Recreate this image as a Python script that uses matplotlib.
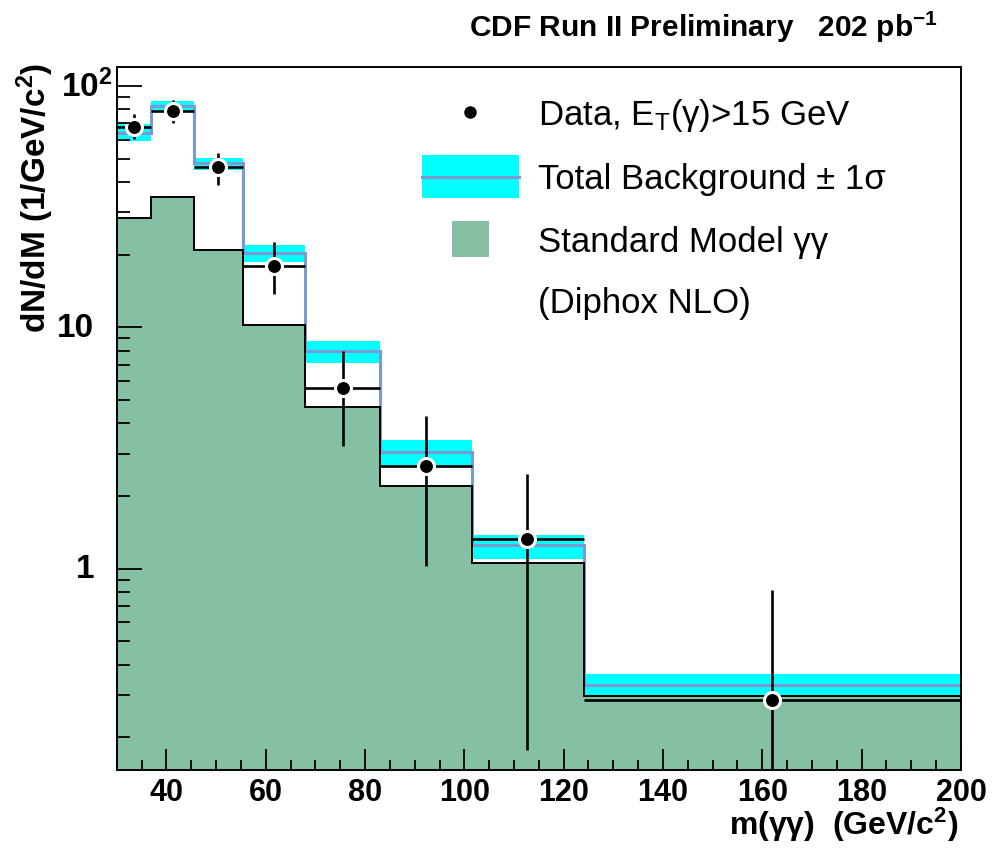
import numpy as np
import matplotlib
matplotlib.use("Agg")
import matplotlib.pyplot as plt
from matplotlib.ticker import MultipleLocator, LogLocator, NullFormatter
from matplotlib.patches import Rectangle
from matplotlib.lines import Line2D

# diphoton mass spectrum
edges = [30, 37, 45.5, 55.5, 68, 83, 101.5, 124, 200]
sm_gg = [28.3, 34.6, 20.9, 10.2, 4.70, 2.21, 1.06, 0.297]
bkg = [63.8, 82.6, 47.9, 20.3, 7.95, 3.06, 1.25, 0.330]
bkg_hi = [69.4, 86.9, 50.3, 21.9, 8.76, 3.40, 1.38, 0.367]
bkg_lo = [59.0, 78.0, 44.9, 18.6, 7.10, 2.70, 1.10, 0.297]
data_x = [33.4, 41.3, 50.5, 61.6, 75.5, 92.2, 112.6, 161.9]
data_y = [68.0, 79.0, 46.0, 18.0, 5.6, 2.67, 1.33, 0.286]
data_hi = [76.6, 87.8, 52.7, 22.5, 7.95, 4.31, 2.48, 0.818]
data_lo = [60.3, 70.0, 39.0, 13.8, 3.24, 1.03, 0.177, 0.05]

ytick_vals = [1, 10, 100]

plt.rcParams['font.family'] = ['Liberation Sans', 'DejaVu Sans']
plt.rcParams['mathtext.fontset'] = 'custom'
plt.rcParams['mathtext.rm'] = 'Liberation Sans'
plt.rcParams['mathtext.bf'] = 'Liberation Sans:bold'
plt.rcParams['mathtext.it'] = 'Liberation Sans:italic'

green = '#86c0a4'
cyan = '#00ffff'
blue = '#7d99d1'

fig = plt.figure(figsize=(10.05, 8.53), dpi=100)
ax = fig.add_axes([0.1161, 0.0965, 0.8401, 0.8238])
ax.set_yscale('log')

# uncertainty band on total background
ax.stairs(bkg_hi, edges, baseline=bkg_lo, fill=True, color=cyan, lw=0, zorder=1)
ax.stairs(bkg, edges, baseline=None, color=blue, lw=2.2, zorder=2)
# SM diphoton (Diphox NLO)
ax.stairs(sm_gg, edges, baseline=1e-3, fill=True, color=green, lw=0, zorder=3)
ax.stairs(sm_gg, edges, baseline=None, color='black', lw=1.4, zorder=4)

x = np.array(data_x)
y = np.array(data_y)
e = np.array(edges)
ax.errorbar(x, y, yerr=[y - np.array(data_lo), np.array(data_hi) - y],
            xerr=[x - e[:-1], e[1:] - x], fmt='o', color='black', ms=11.5,
            mec='white', mew=2.2, elinewidth=1.9, capsize=0, zorder=5)

ax.set_xlim(30, 200)
ax.set_ylim(0.147, 120)

ax.xaxis.set_major_locator(MultipleLocator(20))
ax.xaxis.set_minor_locator(MultipleLocator(5))
ax.yaxis.set_major_locator(LogLocator(base=10, numticks=10))
ax.yaxis.set_minor_locator(LogLocator(base=10, subs=np.arange(2, 10), numticks=20))
ax.yaxis.set_major_formatter(NullFormatter())
ax.yaxis.set_minor_formatter(NullFormatter())

ax.tick_params(axis='both', which='both', direction='in', top=False, right=False,
               width=1.3, color='black')
ax.tick_params(axis='x', which='major', length=15, pad=5, labelsize=22)
ax.tick_params(axis='x', which='minor', length=7.5)
ax.tick_params(axis='y', which='major', length=18)
ax.tick_params(axis='y', which='minor', length=9)
for lab in ax.get_xticklabels():
    lab.set_fontweight('bold')
for sp in ax.spines.values():
    sp.set_linewidth(1.4)
    sp.set_zorder(10)
# ticks on top of the filled histograms
ax.xaxis.set_zorder(9)
ax.yaxis.set_zorder(9)

# y tick labels in ROOT style
ytr = ax.get_yaxis_transform()
for v in ytick_vals:
    if v == 100:
        ax.text(-0.0665, v, r'$\mathbf{10^{2}}$', transform=ytr, ha='left', va='center',
                fontsize=24, clip_on=False)
    else:
        ax.text(-0.027, v, str(v), transform=ytr, ha='right', va='center',
                fontsize=24, fontweight='bold', clip_on=False)

# axis titles
fig.text(35 / 1005, 1 - 63 / 853, r'dN/dM (1/GeV/c$^{\mathbf{2}}$)', rotation=90,
         ha='center', va='top', fontsize=24, fontweight='bold')
fig.text(958 / 1005, 1 - 835 / 853, r'm(γγ)  (GeV/c$^{\mathbf{2}}$)', ha='right',
         va='baseline', fontsize=23, fontweight='bold')
fig.text(938 / 1005, 1 - 37 / 853, r'CDF Run II Preliminary   202 pb$^{\mathbf{-1}}$',
         ha='right', va='baseline', fontsize=21.5, fontweight='bold')

# legend, drawn by hand
tx = 0.499
ax.add_line(Line2D([0.4185], [0.936], transform=ax.transAxes, marker='o', ms=8,
                   color='black', ls='none', zorder=6))
ax.text(tx, 0.919, r'Data, E$_{\rm T}$(γ)>15 GeV', transform=ax.transAxes,
        fontsize=25, va='baseline')
ax.add_patch(Rectangle((0.3616, 0.8136), 0.1149, 0.0612, transform=ax.transAxes,
                       color=cyan, lw=0, zorder=6))
ax.add_line(Line2D([0.3616, 0.4765], [0.8435, 0.8435], transform=ax.transAxes,
                   color=blue, lw=2.2, zorder=7))
ax.text(tx, 0.828, 'Total Background ± 1σ', transform=ax.transAxes,
        fontsize=25, va='baseline')
ax.add_patch(Rectangle((0.3971, 0.7296), 0.0438, 0.0512, transform=ax.transAxes,
                       color=green, lw=0, zorder=6))
ax.text(tx, 0.738, 'Standard Model γγ', transform=ax.transAxes,
        fontsize=25, va='baseline')
ax.text(tx, 0.651, '(Diphox NLO)', transform=ax.transAxes,
        fontsize=25, va='baseline')

fig.savefig('out.png', dpi=100)
